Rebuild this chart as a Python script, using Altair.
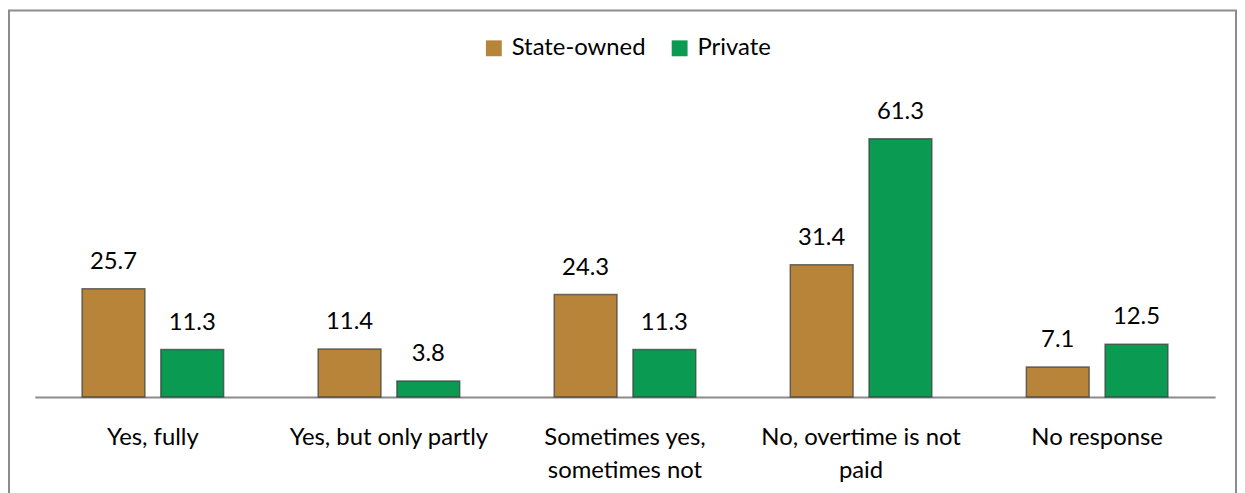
import altair as alt
import pandas as pd

categories = ["Yes, fully", "Yes, but only partly", "Sometimes yes, sometimes not",
              "No, overtime is not paid", "No response"]
series = ["State-owned", "Private"]
state_owned = [25.7, 11.4, 24.3, 31.4, 7.1]
private = [11.3, 3.8, 11.3, 61.3, 12.5]
colors = ["#B8843A", "#0B9A52"]

rows = []
for c, s, p in zip(categories, state_owned, private):
    rows.append({"category": c, "series": "State-owned", "value": s})
    rows.append({"category": c, "series": "Private", "value": p})
df = pd.DataFrame(rows)

FONT = "Lato"
FS = 24
W, H = 1188, 297

label_expr = ("datum.label == 'Sometimes yes, sometimes not' ? ['Sometimes yes,', 'sometimes not'] : "
              "datum.label == 'No, overtime is not paid' ? ['No, overtime is not', 'paid'] : datum.label")

x_enc = alt.X("category:N", sort=categories,
              scale=alt.Scale(domain=categories, paddingInner=0, paddingOuter=0),
              axis=alt.Axis(title=None, labelExpr=label_expr, labelFontSize=FS,
                            labelFont=FONT, labelColor="#000000", labelAngle=0,
                            labelPadding=29, labelLineHeight=33, ticks=False,
                            domainColor="#8c8c8c", domainWidth=2, labelLimit=300))
xo_enc = alt.XOffset("series:N", sort=series,
                     scale=alt.Scale(domain=series, paddingInner=0.2025, paddingOuter=0.6))
y_enc = alt.Y("value:Q", scale=alt.Scale(domain=[0, 70], nice=False, zero=True), axis=None)

base = alt.Chart(df)

bars = base.mark_bar(stroke="#3a3a3a", strokeOpacity=0.7, strokeWidth=1.5).encode(
    x=x_enc, xOffset=xo_enc, y=y_enc,
    color=alt.Color("series:N", sort=series,
                    scale=alt.Scale(domain=series, range=colors),
                    legend=alt.Legend(title=None, orient="none", legendX=450, legendY=-66,
                                      direction="horizontal", symbolType="square",
                                      symbolSize=256, symbolStrokeWidth=0,
                                      labelFontSize=FS, labelFont=FONT, labelColor="#000000",
                                      labelOffset=6, columnPadding=22, padding=0)),
)

labels = base.mark_text(font=FONT, fontSize=FS, color="#000000",
                        baseline="alphabetic", dy=-20).encode(
    x=x_enc, xOffset=xo_enc, y=y_enc, text=alt.Text("value:Q", format=".1f"))

border = alt.Chart(alt.Data(values=[{"a": 1}])).mark_rect(
    fill="transparent", stroke="#8c8c8c", strokeWidth=2
).encode(x=alt.value(-26), x2=alt.value(1209), y=alt.value(-92), y2=alt.value(400))

chart = alt.layer(bars, labels, border).properties(
    width=W, height=H,
    autosize=alt.AutoSizeParams(type="none"),
    padding={"left": 27, "top": 93, "right": 22, "bottom": 95},
    background="white",
).configure_view(stroke=None)

chart.save("out.html", embed_options={"renderer": "svg", "actions": False})
